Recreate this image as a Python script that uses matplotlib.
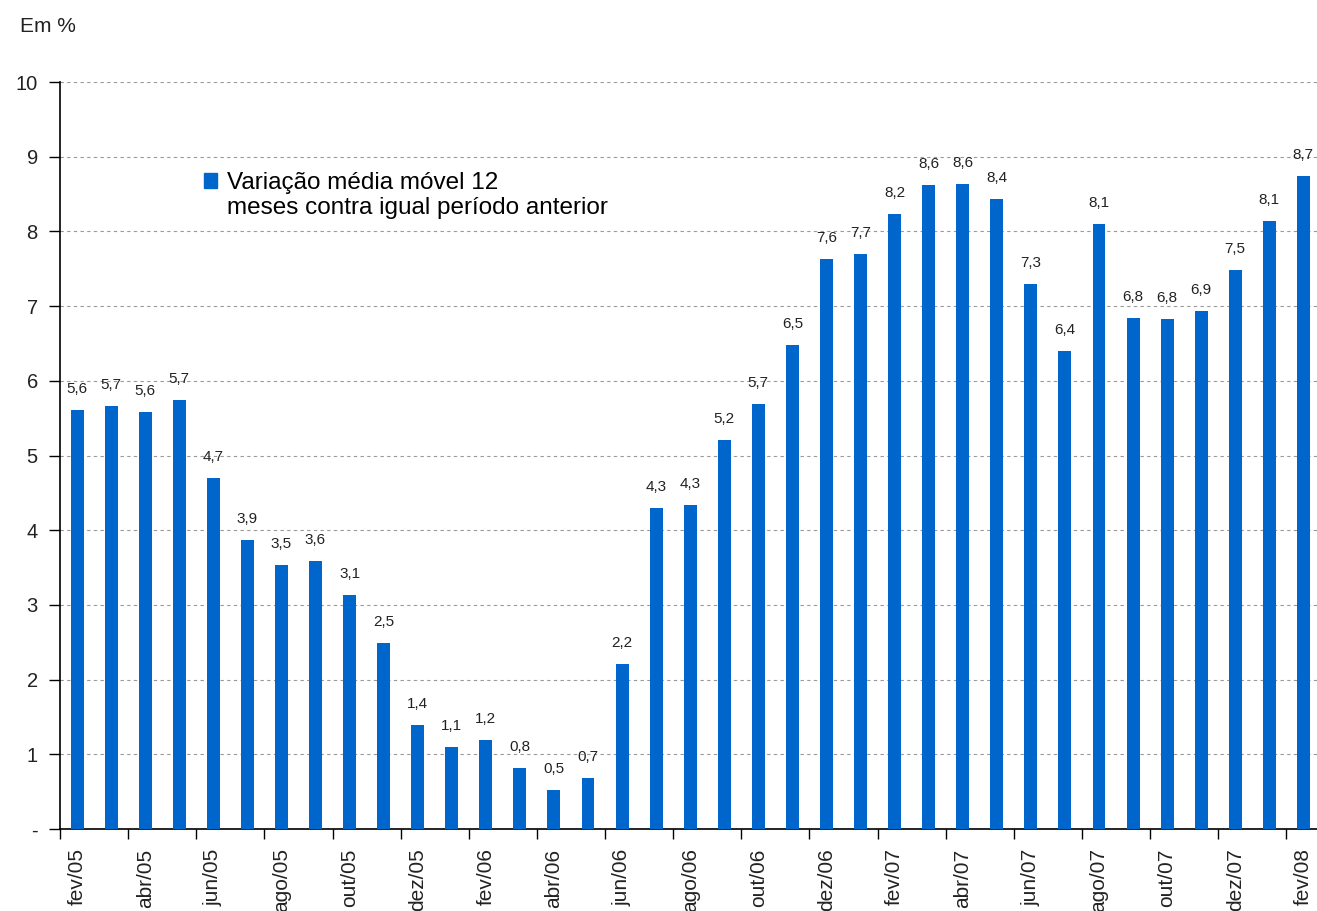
import matplotlib.pyplot as plt
from matplotlib.patches import Patch
import numpy as np

plt.rcParams['font.family'] = ['Liberation Sans', 'DejaVu Sans']

months = ['fev/05', 'mar/05', 'abr/05', 'mai/05', 'jun/05', 'jul/05', 'ago/05', 'set/05',
          'out/05', 'nov/05', 'dez/05', 'jan/06', 'fev/06', 'mar/06', 'abr/06', 'mai/06',
          'jun/06', 'jul/06', 'ago/06', 'set/06', 'out/06', 'nov/06', 'dez/06', 'jan/07',
          'fev/07', 'mar/07', 'abr/07', 'mai/07', 'jun/07', 'jul/07', 'ago/07', 'set/07',
          'out/07', 'nov/07', 'dez/07', 'jan/08', 'fev/08']
values = [5.61, 5.66, 5.58, 5.74, 4.70, 3.87, 3.54, 3.59, 3.13, 2.49, 1.39, 1.10, 1.19,
          0.82, 0.52, 0.68, 2.21, 4.30, 4.34, 5.21, 5.69, 6.48, 7.63, 7.70, 8.23, 8.62,
          8.64, 8.44, 7.30, 6.40, 8.10, 6.84, 6.83, 6.94, 7.48, 8.14, 8.74]
legend_lines = ['Variação média móvel 12', 'meses contra igual período anterior']

blue = '#0066CC'
txt = '#222222'

fig = plt.figure(figsize=(13.17, 9.11), dpi=100)
ax = fig.add_axes([60 / 1317, 82 / 911, 1257 / 1317, 747 / 911])

x = np.arange(len(values))
bars = ax.bar(x, values, width=0.38, color=blue, zorder=3)
ax.bar_label(bars, labels=[f'{v:.1f}'.replace('.', ',') for v in values],
             padding=10, fontsize=11, color=txt)

ax.set_xlim(-0.5, 36.4)
ax.set_ylim(0, 10)
ax.set_yticks(range(11))
ax.set_yticklabels(['-'] + [str(i) for i in range(1, 11)], fontsize=14.5, color=txt)
ax.tick_params(axis='y', length=8, width=1, pad=8)
ax.yaxis.grid(True, linestyle=(0, (3, 3)), color='#999999', linewidth=0.8, zorder=0)

ax.set_xticks(x[::2])
ax.set_xticklabels(months[::2], rotation=90, fontsize=15, color=txt)
ax.set_xticks(np.arange(-0.5, len(values) - 1, 2), minor=True)
ax.tick_params(axis='x', which='major', length=0, pad=14)
ax.tick_params(axis='x', which='minor', length=7, width=1)

for s in ['top', 'right']:
    ax.spines[s].set_visible(False)
for s in ['left', 'bottom']:
    ax.spines[s].set_linewidth(1.2)

handles = [Patch(color=blue), Patch(visible=False)]
ax.legend(handles, legend_lines, loc='upper left', bbox_to_anchor=(0.1065, 0.892),
          frameon=False, fontsize=17.5, handlelength=0.55, handleheight=0.55,
          handletextpad=0.4, labelspacing=0.12, borderaxespad=0)

fig.text(20 / 1317, 1 - 26 / 911, 'Em %', fontsize=15, color=txt, va='center')

fig.savefig('out.png', dpi=100)
